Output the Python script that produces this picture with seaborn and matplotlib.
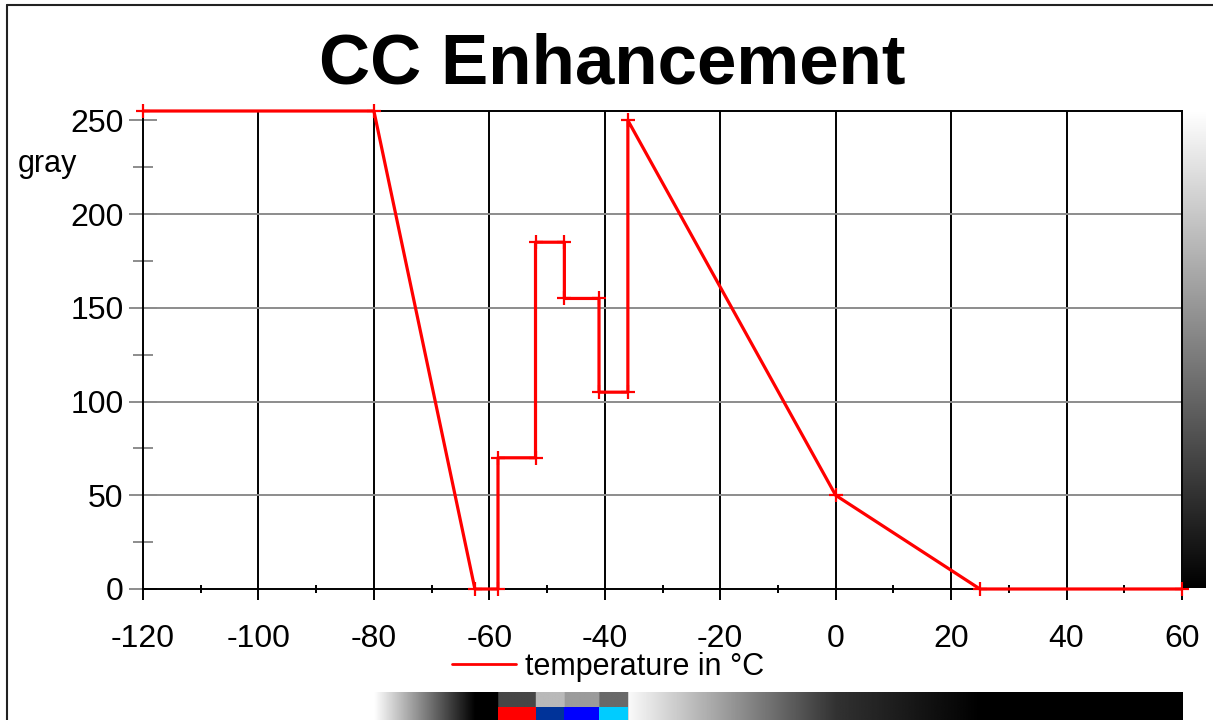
"""CC Enhancement curve: gray level vs temperature."""


# Import libraries and functions
import numpy as np
import matplotlib.pyplot as plt
import matplotlib.ticker as mtick
from matplotlib.lines import Line2D
import seaborn as sns


# Curve vertices
temps = [-120, -80, -62.5, -58.5, -58.5, -52, -52, -47, -47, -41, -41, -36, -36, 0, 25, 60]
gray = [255, 255, 0, 0, 70, 70, 185, 185, 155, 155, 105, 105, 250, 50, 0, 0]

# Colour overlay segments on the bottom scale bar
seg_start = [-58.5, -52, -47, -41]
seg_end = [-52, -47, -41, -36]
seg_colors = ['#ff0000', '#003399', '#0000ff', '#00ccff']

# Temperature range covered by the bottom scale bar
bar_range = [-80, 60]

x_ticks = list(range(-120, 61, 20))
y_ticks = list(range(0, 251, 50))


sns.set_theme(style='white')
plt.rcParams['font.family'] = ['Liberation Sans', 'DejaVu Sans']
plt.rcParams['axes.unicode_minus'] = False
plt.rcParams['text.color'] = 'black'

W, H = 1213, 720
fig = plt.figure(figsize=(W / 100, H / 100), dpi=100)
ax = fig.add_axes([143 / W, 131 / H, 1039 / W, 478 / H])

# Grid lines first so the curve sits on top
for x in x_ticks[1:-1]:
    ax.axvline(x, color='black', lw=1.4, zorder=1)
for y in y_ticks[1:-1]:
    ax.axhline(y, color='#8c8c8c', lw=1.4, zorder=1)

sns.lineplot(x=temps, y=gray, sort=False, estimator=None, color='#ff0000', lw=2.3,
             marker='+', markersize=10, markeredgewidth=1.6, markeredgecolor='#ff0000',
             ax=ax, zorder=5, clip_on=False)

ax.set_xlim(-120, 60)
ax.set_ylim(0, 255)
ax.set_xticks(x_ticks)
ax.set_yticks(y_ticks)
ax.xaxis.set_minor_locator(mtick.MultipleLocator(10))
ax.yaxis.set_minor_locator(mtick.MultipleLocator(25))
ax.set_xlabel('')
ax.set_ylabel('')

ax.tick_params(which='both', bottom=True, left=True)
ax.tick_params(axis='y', which='major', direction='inout', length=20, width=1.4,
               color='#8c8c8c', pad=4, labelsize=23, labelcolor='black')
ax.tick_params(axis='y', which='minor', direction='inout', length=14, width=1.4, color='#8c8c8c')
ax.tick_params(axis='x', which='major', direction='out', length=8, width=1.4,
               color='black', pad=17, labelsize=23, labelcolor='black')
ax.tick_params(axis='x', which='minor', direction='inout', length=6, width=1.4, color='black')
for sp in ax.spines.values():
    sp.set_color('black')
    sp.set_linewidth(1.4)

# Title and axis label
fig.text(612 / W, 1 - 84 / H, 'CC Enhancement', ha='center', va='baseline',
         fontsize=51, fontweight='bold', color='black')
fig.text(18 / W, 1 - 172 / H, 'gray', ha='left', va='baseline', fontsize=22, color='black')

# Legend below the x axis
handle = Line2D([], [], color='#ff0000', lw=2)
ax.legend([handle], ['temperature in °C'], loc='center left',
          bbox_to_anchor=(452 / W, 1 - 667 / H), bbox_transform=fig.transFigure,
          frameon=False, fontsize=22, handlelength=2.1, handletextpad=0.3,
          borderpad=0, borderaxespad=0, labelcolor='black')

# Gray scale bar on the right
cax = fig.add_axes([1183 / W, 132 / H, 23 / W, 477 / H])
cax.imshow(np.linspace(255, 0, 256)[:, None], cmap='gray', vmin=0, vmax=255, aspect='auto')
cax.axis('off')

# Scale bar at the bottom: curve rendered as gray levels
bax = fig.add_axes([143 / W, 0, 1039 / W, 28 / H])
grid = np.linspace(bar_range[0], bar_range[1], 1400)
levels = np.interp(grid, temps, gray)
bax.imshow(levels[None, :], cmap='gray', vmin=0, vmax=255,
           extent=[bar_range[0], bar_range[1], 0, 1], aspect='auto')
bax.bar(seg_start, 0.46, width=np.subtract(seg_end, seg_start), bottom=0,
        align='edge', color=seg_colors, linewidth=0)
bax.set_xlim(-120, 60)
bax.set_ylim(0, 1)
bax.axis('off')

# Window frame lines
fig.add_artist(Line2D([7 / W, 7 / W], [0, 1 - 5 / H], transform=fig.transFigure, color='#222222', lw=1.5))
fig.add_artist(Line2D([7 / W, 1], [1 - 5 / H, 1 - 5 / H], transform=fig.transFigure, color='#222222', lw=1.5))

fig.savefig('out.png', dpi=100)
